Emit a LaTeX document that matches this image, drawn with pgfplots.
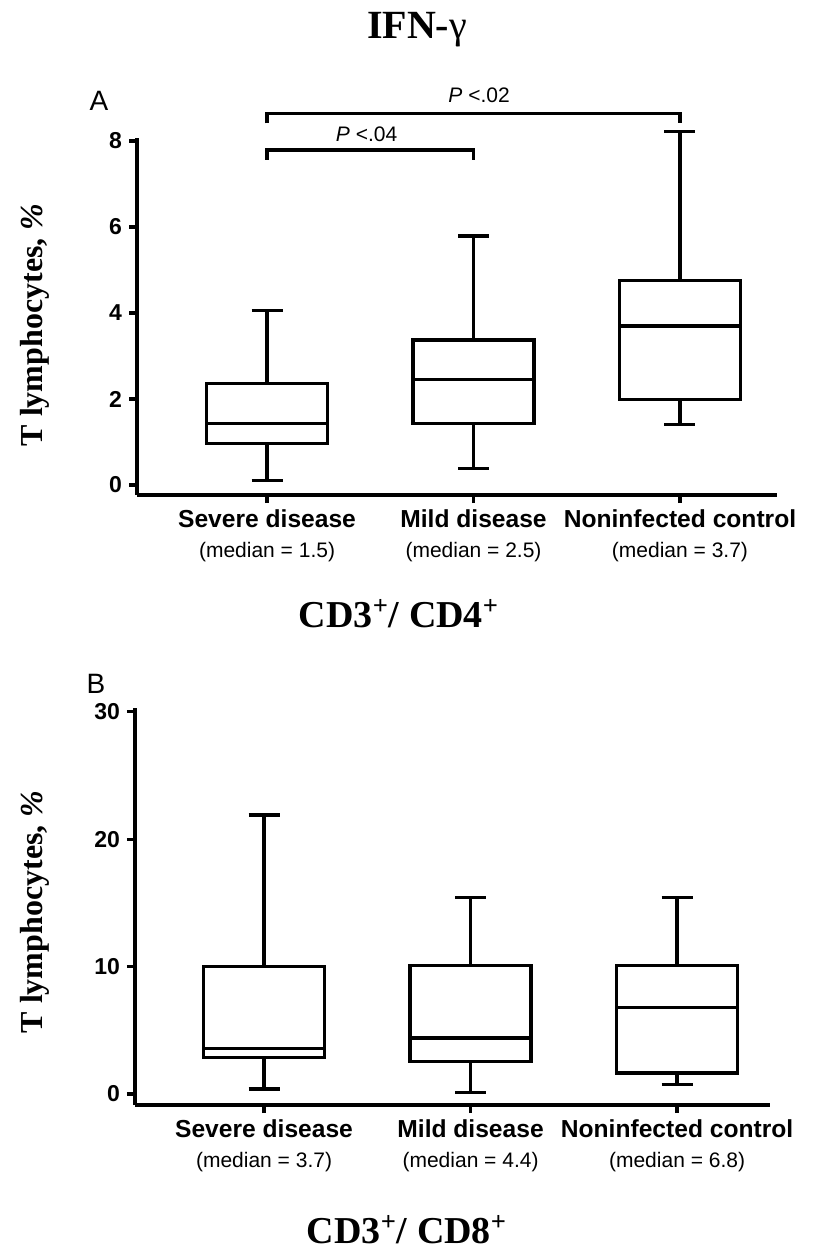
\documentclass[border=0pt]{standalone}
\usepackage{fontspec}
\setmainfont{Liberation Sans}
\newfontfamily\serif{Liberation Serif}
\usepackage{pgfplots}
\pgfplotsset{compat=1.18}
\usepgfplotslibrary{statistics}

\pgfplotsset{
 prism/.style={
  scale only axis, axis lines=left, axis line style={-, line width=1.6pt},
  tick align=outside, major tick length=4pt, tick style={line width=1.6pt, black},
  xtick={0,1,2}, clip=false,
  /pgf/number format/assume math mode=true,
  yticklabel style={font=\fontsize{11.5}{13}\selectfont\bfseries},
  xticklabel style={align=center, font=\fontsize{12.3}{15}\selectfont\bfseries},
  boxplot/draw direction=y,
  boxplot/box extend=0.586, boxplot/whisker extend=0.15,
  boxplot/every box/.style={draw=black, line width=1.6pt},
  boxplot/every whisker/.style={black, line width=1.6pt},
  boxplot/every median/.style={black, line width=1.6pt},
 }
}

\begin{document}
\begin{tikzpicture}
\useasboundingbox (0,0) rectangle (409.5pt,-626.5pt);

% Title
\node[anchor=base, font=\serif\bfseries\fontsize{20}{22}\selectfont] at (208.5pt,-19pt) {IFN-{\mdseries γ}};

% Panel A
\node[anchor=base, font=\fontsize{14}{16}\selectfont] at (49.5pt,-55pt) {A};
\begin{axis}[prism, at={(68.5pt,-247.5pt)}, anchor=south west,
  width=320pt, height=178.5pt,
  xmin=-0.63, xmax=2.47, ymin=-0.233, ymax=8.07,
  ytick={0,2,4,6,8},
  xticklabels={{Severe disease\\{\mdseries\fontsize{10.5}{15}\selectfont (median = 1.5)}},
               {Mild disease\\{\mdseries\fontsize{10.5}{15}\selectfont (median = 2.5)}},
               {Noninfected control\\{\mdseries\fontsize{10.5}{15}\selectfont (median = 3.7)}}}]
\addplot[black, line width=1.6pt, boxplot prepared={draw position=0, lower whisker=0.10, lower quartile=0.97, median=1.43, upper quartile=2.36, upper whisker=4.05}] coordinates {};
\addplot[black, line width=1.6pt, boxplot prepared={draw position=1, lower whisker=0.39, lower quartile=1.43, median=2.46, upper quartile=3.37, upper whisker=5.79}] coordinates {};
\addplot[black, line width=1.6pt, boxplot prepared={draw position=2, lower whisker=1.41, lower quartile=1.98, median=3.70, upper quartile=4.75, upper whisker=8.23}] coordinates {};
\draw[line width=1.6pt] (axis cs:0,8.41) -- (axis cs:0,8.64) -- (axis cs:2,8.64) -- (axis cs:2,8.41);
\draw[line width=1.6pt] (axis cs:0,7.56) -- (axis cs:0,7.79) -- (axis cs:1,7.79) -- (axis cs:1,7.56);
\node[font=\fontsize{10.5}{12}\selectfont] at (axis cs:1.027,9.07) {\textit{P} <.02};
\node[font=\fontsize{10.5}{12}\selectfont] at (axis cs:0.482,8.15) {\textit{P} <.04};
\end{axis}
\node[rotate=90, font=\serif\bfseries\fontsize{16}{18}\selectfont] at (17.5pt,-162.5pt) {T lymphocytes, \textit{\%}};
\node[anchor=base, font=\serif\bfseries\fontsize{19}{22}\selectfont] at (199.5pt,-313.5pt) {CD3\textsuperscript{+}/ CD4\textsuperscript{+}};

% Panel B
\node[anchor=base, font=\fontsize{14}{16}\selectfont] at (48pt,-346.5pt) {B};
\begin{axis}[prism, at={(67.5pt,-552.5pt)}, anchor=south west,
  width=317.5pt, height=198.5pt,
  xmin=-0.625, xmax=2.45, ymin=-0.86, ymax=30.3,
  ytick={0,10,20,30},
  xticklabels={{Severe disease\\{\mdseries\fontsize{10.5}{15}\selectfont (median = 3.7)}},
               {Mild disease\\{\mdseries\fontsize{10.5}{15}\selectfont (median = 4.4)}},
               {Noninfected control\\{\mdseries\fontsize{10.5}{15}\selectfont (median = 6.8)}}}]
\addplot[black, line width=1.6pt, boxplot prepared={draw position=0, lower whisker=0.4, lower quartile=2.85, median=3.6, upper quartile=10.0, upper whisker=21.9}] coordinates {};
\addplot[black, line width=1.6pt, boxplot prepared={draw position=1, lower whisker=0.1, lower quartile=2.55, median=4.4, upper quartile=10.1, upper whisker=15.45}] coordinates {};
\addplot[black, line width=1.6pt, boxplot prepared={draw position=2, lower whisker=0.75, lower quartile=1.65, median=6.8, upper quartile=10.1, upper whisker=15.45}] coordinates {};
\end{axis}
\node[rotate=90, font=\serif\bfseries\fontsize{16}{18}\selectfont] at (17.5pt,-456pt) {T lymphocytes, \textit{\%}};
\node[anchor=base, font=\serif\bfseries\fontsize{19}{22}\selectfont] at (203.5pt,-621.5pt) {CD3\textsuperscript{+}/ CD8\textsuperscript{+}};
\end{tikzpicture}
\end{document}
